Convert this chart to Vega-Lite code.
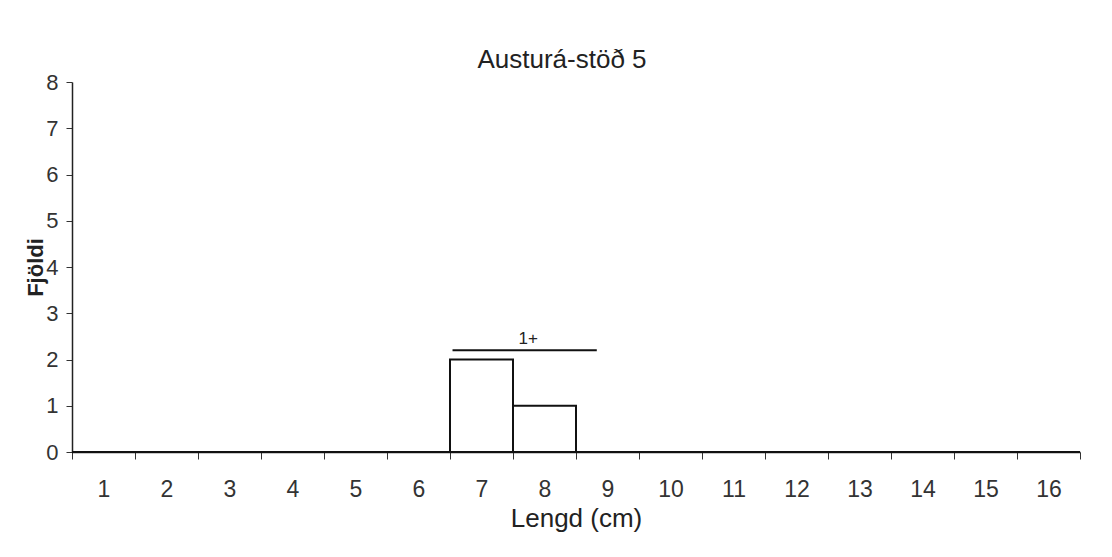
{
  "$schema": "https://vega.github.io/schema/vega-lite/v6.json",
  "autosize": "none",
  "width": 1008,
  "height": 370,
  "padding": {"left": 72, "top": 82, "right": 32, "bottom": 105},
  "background": "white",
  "title": {"text": "Austurá-stöð 5", "fontSize": 26, "fontWeight": "normal", "font": "Liberation Sans", "color": "#222", "offset": -2, "dx": -14, "anchor": "middle"},
  "config": {"view": {"stroke": null}, "font": "Liberation Sans"},
  "datasets": {
    "bars": [
      {"len": "1", "n": 0}, {"len": "2", "n": 0}, {"len": "3", "n": 0}, {"len": "4", "n": 0},
      {"len": "5", "n": 0}, {"len": "6", "n": 0}, {"len": "7", "n": 2}, {"len": "8", "n": 1},
      {"len": "9", "n": 0}, {"len": "10", "n": 0}, {"len": "11", "n": 0}, {"len": "12", "n": 0},
      {"len": "13", "n": 0}, {"len": "14", "n": 0}, {"len": "15", "n": 0}, {"len": "16", "n": 0}
    ],
    "ann": [{"start": 6.54, "end": 8.83, "mid": 7.74, "level": 2.2, "textlevel": 2.45, "label": "1+"}]
  },
  "layer": [
    {
      "data": {"name": "bars"},
      "mark": {"type": "bar", "fill": "white", "stroke": "#111", "strokeWidth": 2},
      "encoding": {
        "x": {"field": "len", "type": "ordinal", "sort": null,
              "scale": {"paddingInner": 0, "paddingOuter": 0},
              "axis": {"title": "Lengd (cm)", "labelAngle": 0, "tickBand": "extent", "tickSize": 7, "tickColor": "#333",
                       "domainColor": "#222", "domainWidth": 1.5, "labelFontSize": 23, "labelColor": "#333", "labelPadding": 19,
                       "titleFontSize": 26, "titleFontWeight": "normal", "titleColor": "#222", "titlePadding": 4, "labelFont": "Liberation Sans", "titleFont": "Liberation Sans"}},
        "y": {"field": "n", "type": "quantitative",
              "scale": {"domain": [0, 8], "nice": false},
              "axis": {"title": "Fjöldi", "values": [0,1,2,3,4,5,6,7,8], "grid": false, "tickSize": 6, "tickColor": "#333",
                       "domainColor": "#222", "domainWidth": 1.5, "labelFontSize": 22, "labelColor": "#333", "labelPadding": 8,
                       "titleFontSize": 22, "titleFontWeight": "bold", "titleColor": "#222",
                       "titleX": -37, "titleY": 185, "titleAngle": -90, "titleAlign": "center", "titleBaseline": "middle",
                       "labelFont": "Liberation Sans", "titleFont": "Liberation Sans"}}
      }
    },
    {
      "data": {"name": "ann"},
      "layer": [
        {
          "mark": {"type": "rule", "stroke": "#111", "strokeWidth": 2},
          "encoding": {
            "x": {"field": "start", "type": "quantitative", "scale": {"domain": [0.5, 16.5], "nice": false, "zero": false}, "axis": null},
            "x2": {"field": "end"},
            "y": {"field": "level", "type": "quantitative"}
          }
        },
        {
          "mark": {"type": "text", "fontSize": 17, "color": "#222", "font": "Liberation Sans"},
          "encoding": {
            "x": {"field": "mid", "type": "quantitative", "scale": {"domain": [0.5, 16.5], "nice": false, "zero": false}, "axis": null},
            "y": {"field": "textlevel", "type": "quantitative"},
            "text": {"field": "label"}
          }
        }
      ]
    }
  ],
  "resolve": {"scale": {"x": "independent"}}
}
